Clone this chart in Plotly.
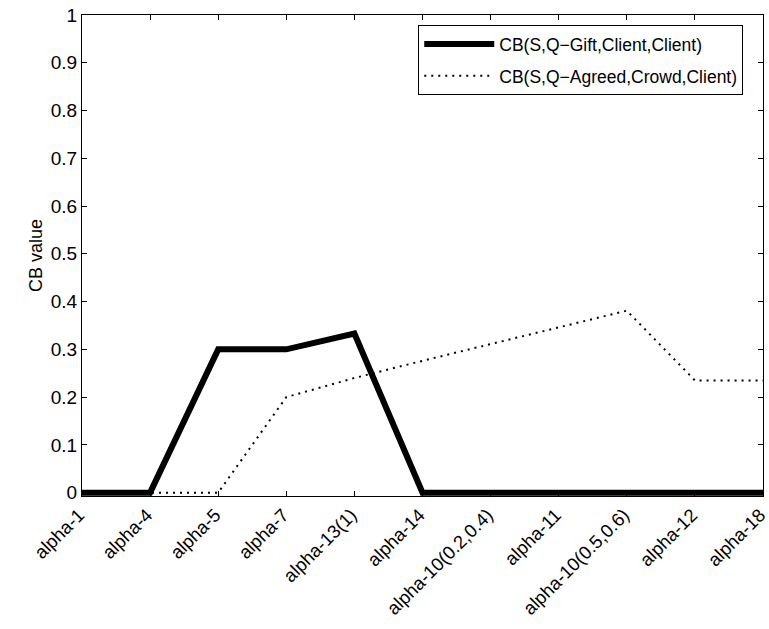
import plotly.graph_objects as go

categories = ["alpha-1", "alpha-4", "alpha-5", "alpha-7", "alpha-13(1)", "alpha-14",
              "alpha-10(0.2,0.4)", "alpha-11", "alpha-10(0.5,0.6)", "alpha-12", "alpha-18"]
gift_client = [0, 0, 0.3, 0.3, 0.333, 0, 0, 0, 0, 0, 0]
agreed_crowd = [0, 0, 0, 0.2, 0.24, 0.276, 0.311, 0.346, 0.381, 0.235, 0.235]
y_ticks = [0, 0.1, 0.2, 0.3, 0.4, 0.5, 0.6, 0.7, 0.8, 0.9, 1]
y_tick_text = ["0", "0.1", "0.2", "0.3", "0.4", "0.5", "0.6", "0.7", "0.8", "0.9", "1"]

x_idx = list(range(len(categories)))
font = "Liberation Sans, Arial, Helvetica, sans-serif"

fig = go.Figure()
fig.add_trace(go.Scatter(x=x_idx, y=gift_client, mode="lines",
                         name="CB(S,Q\u2212Gift,Client,Client)", legendgroup="g1",
                         line=dict(color="black", width=6)))
fig.add_trace(go.Scatter(x=x_idx, y=agreed_crowd, mode="lines",
                         name="CB(S,Q\u2212Agreed,Crowd,Client)", legendgroup="g2",
                         line=dict(color="black", width=2, dash="2px,5px")))

fig.update_layout(
    width=769, height=629,
    margin=dict(l=82, r=6, t=15, b=133, autoexpand=False),
    paper_bgcolor="white", plot_bgcolor="white",
    font=dict(family=font, size=19, color="black"),
    showlegend=True,
    legend=dict(x=0.971, y=0.979, xanchor="right", yanchor="top",
                bgcolor="white", bordercolor="black", borderwidth=1,
                font=dict(size=17.5, family=font), tracegroupgap=6, itemwidth=70),
    xaxis=dict(range=[0, 10.0001], tickvals=x_idx, ticktext=categories, tickangle=-45,
               showgrid=False, zeroline=False, showline=True, linecolor="black",
               linewidth=1, mirror="ticks", ticks="inside", ticklen=5,
               tickcolor="black", tickfont=dict(size=18.5), automargin=False,
               ticklabeloverflow="allow", ticklabelshift=-3),
    yaxis=dict(range=[-0.007, 1], tickvals=y_ticks, ticktext=y_tick_text,
               showgrid=False, zeroline=False, showline=True, linecolor="black",
               linewidth=1, mirror="ticks", ticks="inside", ticklen=5,
               tickcolor="black", tickfont=dict(size=19), automargin=False,
               title=dict(text="CB value", font=dict(size=18), standoff=3)),
)

fig.write_html("out.html", config={"displayModeBar": False},
               post_script="document.body.style.margin='0px';document.body.style.padding='0px';")
